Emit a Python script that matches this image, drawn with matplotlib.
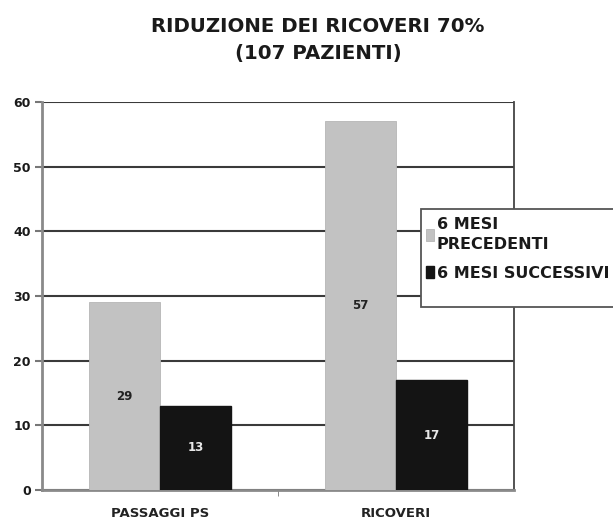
import numpy as np
import matplotlib.pyplot as plt
from matplotlib.patches import Rectangle

# data
categories = ["PASSAGGI PS", "RICOVERI"]
prima = [29, 57]
dopo = [13, 17]
series_names = ["6 MESI\nPRECEDENTI", "6 MESI SUCCESSIVI"]
yticks = [0, 10, 20, 30, 40, 50, 60]

plt.rcParams['font.family'] = ['DejaVu Sans']
plt.rcParams['font.weight'] = 'bold'

fig = plt.figure(figsize=(6.13, 5.19), dpi=100)
ax = fig.add_axes([42/613, 1-490/519, (514-42)/613, (490-102)/519])

x = np.arange(len(categories))
w = 0.3
b1 = ax.bar(x - w/2, prima, w, color='#c2c2c2', edgecolor='#b5b5b5', linewidth=0.6,
            label=series_names[0], zorder=3)
b2 = ax.bar(x + w/2, dopo, w, color='#141414', edgecolor='#141414',
            label=series_names[1], zorder=3)

# data labels in the middle of every bar
for rect, v in zip(b1, prima):
    ax.text(rect.get_x() + rect.get_width()/2, v/2, str(v), ha='center', va='center',
            fontsize=8.5, fontweight='bold', color='#222222', zorder=4)
for rect, v in zip(b2, dopo):
    ax.text(rect.get_x() + rect.get_width()/2, v/2, str(v), ha='center', va='center',
            fontsize=8.5, fontweight='bold', color='#e8e8e8', zorder=4)

ax.set_xlim(-0.5, 1.5)
ax.set_ylim(0, 60)
ax.set_yticks(yticks)
ax.yaxis.grid(True, color='#3a3a3a', linewidth=1.5, zorder=0)
ax.set_xticks(x)
ax.set_xticklabels(categories, fontsize=9.5, fontweight='bold', color='#222222')
ax.set_xticks([0.5], minor=True)
ax.tick_params(axis='x', which='major', length=0, pad=12)
ax.tick_params(axis='x', which='minor', length=4, color='#777777', direction='out')
ax.tick_params(axis='y', length=5, width=1.5, color='#777777', labelsize=9, pad=3)
for lab in ax.get_yticklabels():
    lab.set_fontweight('bold')
    lab.set_color('#1a1a1a')

ax.spines['top'].set_visible(False)
ax.spines['left'].set_color('#8a8a8a')
ax.spines['left'].set_linewidth(2)
ax.spines['bottom'].set_color('#8a8a8a')
ax.spines['bottom'].set_linewidth(2)
ax.spines['right'].set_color('#444444')
ax.spines['right'].set_linewidth(1.3)

fig.text(318/613, 1-40/519, "RIDUZIONE DEI RICOVERI 70%\n(107 PAZIENTI)",
         ha='center', va='center', fontsize=14.2, fontweight='bold',
         color='#1a1a1a', linespacing=1.6)

# legend box runs past the right edge, with empty space under the entries
box = Rectangle((421/613, 1-307/519), 230/613, 98/519, transform=fig.transFigure,
                facecolor='white', edgecolor='#555555', linewidth=1.3, zorder=5)
fig.patches.append(box)
leg = fig.legend(handles=[b1, b2], labels=series_names,
                 loc='upper left', bbox_to_anchor=(424/613, 1-215/519),
                 fontsize=11.5, frameon=False,
                 handlelength=0.55, handleheight=0.75, handletextpad=0.15,
                 borderpad=0.1, labelspacing=0.85, borderaxespad=0)
leg.set_zorder(6)
for t in leg.get_texts():
    t.set_fontweight('bold')
    t.set_color('#1a1a1a')
    t.set_linespacing(1.45)

fig.savefig('out.png', dpi=100)
